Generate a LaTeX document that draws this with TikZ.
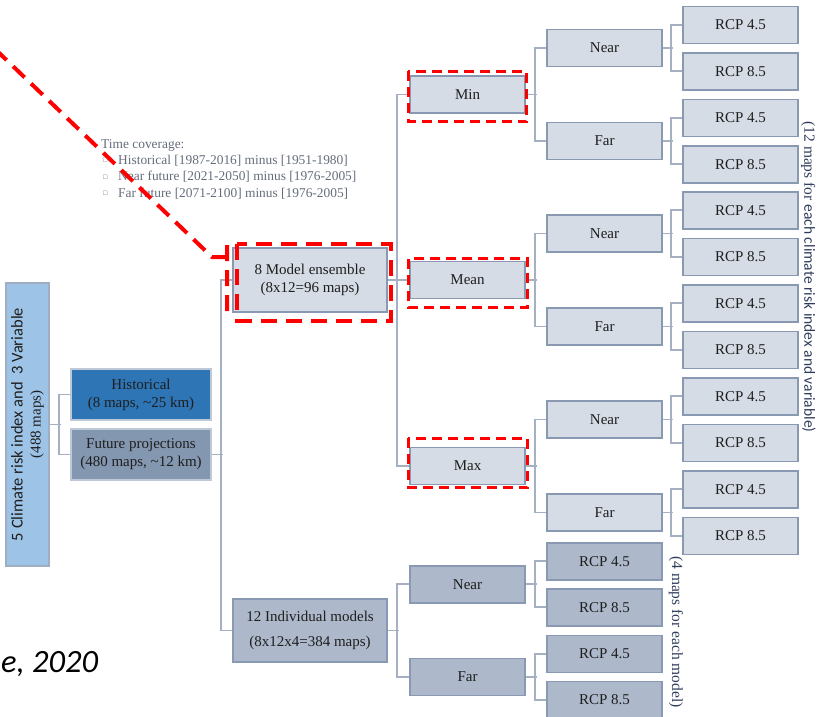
\documentclass[tikz,border=0pt]{standalone}
\usepackage{fontspec}
\usepackage{amssymb}
\setmainfont{Liberation Serif}
\newfontfamily\calibri{Carlito}
\usetikzlibrary{positioning, calc}
\definecolor{rootblue}{RGB}{157, 195, 230}
\definecolor{histblue}{RGB}{46, 117, 182}
\definecolor{futgray}{RGB}{132, 151, 176}
\definecolor{boxlight}{RGB}{214, 220, 229}
\definecolor{boxmid}{RGB}{173, 185, 202}
\definecolor{edgegray}{RGB}{138, 153, 178}
\definecolor{paleedge}{RGB}{190, 200, 214}
\definecolor{linkgray}{RGB}{165, 176, 194}
\definecolor{calloutred}{RGB}{255, 0, 0}
\definecolor{notegray}{RGB}{100, 108, 124}
\definecolor{notenavy}{RGB}{47, 60, 92}
\definecolor{inkdark}{RGB}{30, 30, 30}

\begin{document}
\begin{tikzpicture}[x=1pt, y=-1pt,
    basebox/.style={draw=edgegray, line width=1.5pt, inner sep=0pt, align=center, text=inkdark,
        font=\fontsize{15}{18}\selectfont},
    leafbox/.style={basebox, fill=boxlight, minimum width=115pt, minimum height=37pt},
    modelbox/.style={basebox, fill=boxmid, minimum width=115pt, minimum height=37pt},
    sourcebox/.style={basebox, draw=paleedge, minimum width=140pt, minimum height=51pt},
    link/.style={draw=linkgray, line width=1.8pt},
    statdash/.style={draw=calloutred, line width=3pt, dash pattern=on 10pt off 6pt},
    callout/.style={draw=calloutred, line width=4pt, dash pattern=on 16pt off 9pt},
    sidenote/.style={text=notenavy, rotate=-90, inner sep=0pt, font=\fontsize{15.5}{18}\selectfont}]
    \useasboundingbox (0,0) rectangle (818,716);
    \clip (0,0) rectangle (818,716);

    % Root and data sources
    \node[basebox, fill=rootblue, draw=edgegray!80, minimum width=43pt, minimum height=283pt] (root) at (27.5,424.5) {};
    \node[rotate=90, align=center, text=inkdark, inner sep=0pt, font=\fontsize{15}{18}\selectfont] (roottext) at (root.center)
        {{\calibri\fontsize{16.5}{18}\selectfont 5 Climate risk index and\ \ 3 Variable}\\(488 maps)};
    \node[sourcebox, fill=histblue] (hist) at (141,394.5) {Historical\\(8 maps, \textasciitilde25 km)};
    \node[sourcebox, fill=futgray] (fut) at (141,454.5) {Future projections\\(480 maps, \textasciitilde12 km)};

    % Ensemble branch
    \node[leafbox, minimum width=154pt, minimum height=64pt] (ens) at (310,280) {8 Model ensemble\\(8x12=96 maps)};
    \node[leafbox] (min) at (467.5,94.5) {Min};
    \node[leafbox] (mean) at (467.5,280) {Mean};
    \node[leafbox] (max) at (467.5,466) {Max};

    \node[leafbox] (minnear) at (604.5,48) {Near};
    \node[leafbox] (minfar) at (604.5,141) {Far};
    \node[leafbox] (meannear) at (604.5,233.5) {Near};
    \node[leafbox] (meanfar) at (604.5,326.5) {Far};
    \node[leafbox] (maxnear) at (604.5,419.5) {Near};
    \node[leafbox] (maxfar) at (604.5,512.5) {Far};

    \node[leafbox] (minnear45) at (740.5,24.75) {RCP 4.5};
    \node[leafbox] (minnear85) at (740.5,71.25) {RCP 8.5};
    \node[leafbox] (minfar45) at (740.5,117.75) {RCP 4.5};
    \node[leafbox] (minfar85) at (740.5,164.25) {RCP 8.5};
    \node[leafbox] (meannear45) at (740.5,210.25) {RCP 4.5};
    \node[leafbox] (meannear85) at (740.5,256.75) {RCP 8.5};
    \node[leafbox] (meanfar45) at (740.5,303.25) {RCP 4.5};
    \node[leafbox] (meanfar85) at (740.5,349.75) {RCP 8.5};
    \node[leafbox] (maxnear45) at (740.5,396.25) {RCP 4.5};
    \node[leafbox] (maxnear85) at (740.5,442.75) {RCP 8.5};
    \node[leafbox] (maxfar45) at (740.5,489.25) {RCP 4.5};
    \node[leafbox] (maxfar85) at (740.5,535.75) {RCP 8.5};

    % Individual model branch
    \node[modelbox, minimum width=154pt, minimum height=63pt] (ind) at (310,630.5) {12 Individual models\\[7pt](8x12x4=384 maps)};
    \node[modelbox] (indnear) at (467.5,584.25) {Near};
    \node[modelbox] (indfar) at (467.5,676.75) {Far};
    \node[modelbox] (indnear45) at (604.5,561.25) {RCP 4.5};
    \node[modelbox] (indnear85) at (604.5,607.25) {RCP 8.5};
    \node[modelbox] (indfar45) at (604.5,653.75) {RCP 4.5};
    \node[modelbox] (indfar85) at (604.5,699.75) {RCP 8.5};

    % Tree links
    \draw[link] (hist.west) -- ++(-11,0) |- (fut.west) (root.east) -- ++(11,0);
    \draw[link] (ens.west) -- ++(-11,0) |- (ind.west) (fut.east) -- ++(11,0);
    \draw[link] (min.west) -- ++(-12,0) |- (max.west) (mean.west) -- ++(-12,0) (ens.east) -- ++(11,0);
    \draw[link] (minnear.west) -- ++(-11,0) |- (minfar.west) (min.east) -- ++(11,0);
    \draw[link] (meannear.west) -- ++(-11,0) |- (meanfar.west) (mean.east) -- ++(11,0);
    \draw[link] (maxnear.west) -- ++(-11,0) |- (maxfar.west) (max.east) -- ++(11,0);
    \draw[link] (minnear45.west) -- ++(-11,0) |- (minnear85.west) (minnear.east) -- ++(10,0);
    \draw[link] (minfar45.west) -- ++(-11,0) |- (minfar85.west) (minfar.east) -- ++(10,0);
    \draw[link] (meannear45.west) -- ++(-11,0) |- (meannear85.west) (meannear.east) -- ++(10,0);
    \draw[link] (meanfar45.west) -- ++(-11,0) |- (meanfar85.west) (meanfar.east) -- ++(10,0);
    \draw[link] (maxnear45.west) -- ++(-11,0) |- (maxnear85.west) (maxnear.east) -- ++(10,0);
    \draw[link] (maxfar45.west) -- ++(-11,0) |- (maxfar85.west) (maxfar.east) -- ++(10,0);
    \draw[link] (indnear.west) -- ++(-12,0) |- (indfar.west) (ind.east) -- ++(11,0);
    \draw[link] (indnear45.west) -- ++(-11,0) |- (indnear85.west) (indnear.east) -- ++(11,0);
    \draw[link] (indfar45.west) -- ++(-11,0) |- (indfar85.west) (indfar.east) -- ++(11,0);

    % Notes
    \node[anchor=north west, align=left, inner sep=0pt, text=notegray, font=\fontsize{13.4}{16.4}\selectfont] (coverage) at (101,139)
        {Time coverage:\\
         \hspace*{1.5pt}\makebox[15.5pt][l]{\raisebox{1.5pt}{\tiny$\square$}}Historical [1987-2016] minus [1951-1980]\\
         \hspace*{1.5pt}\makebox[15.5pt][l]{\raisebox{1.5pt}{\tiny$\square$}}Near future [2021-2050] minus [1976-2005]\\
         \hspace*{1.5pt}\makebox[15.5pt][l]{\raisebox{1.5pt}{\tiny$\square$}}Far future [2071-2100] minus [1976-2005]};
    \node[sidenote] (ensnote) at (808.5,277) {(12 maps for {\calibri each climate risk index and variable)}};
    \node[sidenote] (indnote) at (676,632) {(4 maps for each model)};
    \node[anchor=base west, inner sep=0pt, font=\calibri\itshape\fontsize{32.5}{38}\selectfont] (year) at (1,672) {e, 2020};

    % Red highlights
    \draw[statdash] ([shift={(-1,-4)}]min.north west) rectangle ([shift={(1,8)}]min.south east);
    \draw[statdash] ([shift={(-1,-2)}]mean.north west) rectangle ([shift={(2,8)}]mean.south east);
    \draw[statdash] ([shift={(-1,-8.5)}]max.north west) rectangle ([shift={(2,2.5)}]max.south east);
    \draw[callout] ([shift={(5,-3)}]ens.north west) rectangle ([shift={(3,8)}]ens.south east);
    \coordinate (tip) at (-5,49);
    \draw[callout] (tip) -- ++(217,208) -- ++(15,0) ++(0,-12) -- ++(0,68);

\end{tikzpicture}
\end{document}
